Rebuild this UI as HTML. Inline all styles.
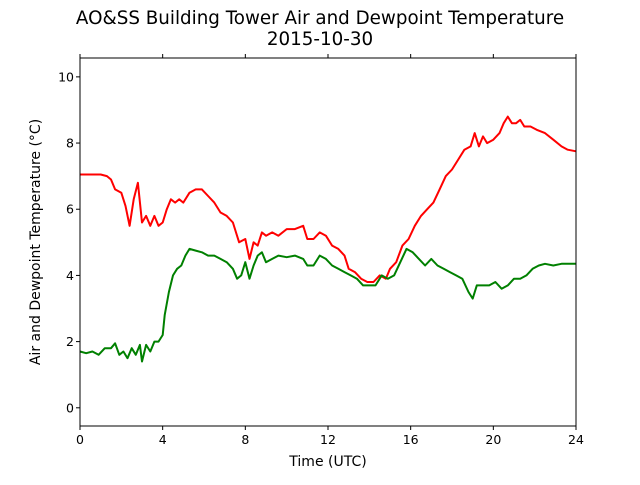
<!DOCTYPE html>
<html><head><meta charset="utf-8"><style>
body{margin:0;background:#fff;}
svg text{font-family:"DejaVu Sans","Liberation Sans",sans-serif;fill:#000;}
</style></head><body>
<svg id="chart" width="640" height="480" xmlns="http://www.w3.org/2000/svg">
<rect width="640" height="480" fill="#fff"/>
<text x="320" y="24" text-anchor="middle" font-size="18.3">AO&amp;SS Building Tower Air and Dewpoint Temperature</text>
<text x="320" y="45" text-anchor="middle" font-size="18.3">2015-10-30</text>
<g id="plot"></g>
<text x="328" y="466" text-anchor="middle" font-size="14">Time (UTC)</text>
<text transform="translate(40,242) rotate(-90)" text-anchor="middle" font-size="14">Air and Dewpoint Temperature (°C)</text>
</svg>
<script>
const airHours=[0,0.5,1,1.3,1.5,1.7,2,2.2,2.4,2.6,2.8,3.0,3.2,3.4,3.6,3.8,4.0,4.2,4.4,4.6,4.8,5.0,5.3,5.6,5.9,6.2,6.5,6.8,7.1,7.4,7.7,8.0,8.2,8.4,8.6,8.8,9.0,9.3,9.6,10,10.4,10.8,11.0,11.3,11.6,11.9,12.2,12.5,12.8,13.0,13.3,13.6,13.9,14.2,14.5,14.8,15.0,15.3,15.6,15.9,16.2,16.5,16.8,17.1,17.4,17.7,18.0,18.3,18.6,18.9,19.1,19.3,19.5,19.7,20.0,20.3,20.5,20.7,20.9,21.1,21.3,21.5,21.8,22.1,22.5,22.9,23.3,23.6,24];
const airTemp=[7.05,7.05,7.05,7.0,6.9,6.6,6.5,6.1,5.5,6.3,6.8,5.6,5.8,5.5,5.8,5.5,5.6,6.0,6.3,6.2,6.3,6.2,6.5,6.6,6.6,6.4,6.2,5.9,5.8,5.6,5.0,5.1,4.5,5.0,4.9,5.3,5.2,5.3,5.2,5.4,5.4,5.5,5.1,5.1,5.3,5.2,4.9,4.8,4.6,4.2,4.1,3.9,3.8,3.8,4.0,3.9,4.2,4.4,4.9,5.1,5.5,5.8,6.0,6.2,6.6,7.0,7.2,7.5,7.8,7.9,8.3,7.9,8.2,8.0,8.1,8.3,8.6,8.8,8.6,8.6,8.7,8.5,8.5,8.4,8.3,8.1,7.9,7.8,7.75];
const dewHours=[0,0.3,0.6,0.9,1.2,1.5,1.7,1.9,2.1,2.3,2.5,2.7,2.9,3.0,3.2,3.4,3.6,3.8,4.0,4.1,4.3,4.5,4.7,4.9,5.1,5.3,5.6,5.9,6.2,6.5,6.8,7.1,7.4,7.6,7.8,8.0,8.2,8.4,8.6,8.8,9.0,9.3,9.6,10,10.4,10.8,11.0,11.3,11.6,11.9,12.2,12.5,12.8,13.1,13.4,13.7,14.0,14.3,14.6,14.9,15.2,15.5,15.8,16.1,16.4,16.7,17.0,17.3,17.6,17.9,18.2,18.5,18.8,19.0,19.2,19.5,19.8,20.1,20.4,20.7,21.0,21.3,21.6,21.9,22.2,22.5,22.9,23.3,23.7,24];
const dewTemp=[1.7,1.65,1.7,1.6,1.8,1.8,1.95,1.6,1.7,1.5,1.8,1.6,1.9,1.4,1.9,1.7,2.0,2.0,2.2,2.8,3.5,4.0,4.2,4.3,4.6,4.8,4.75,4.7,4.6,4.6,4.5,4.4,4.2,3.9,4.0,4.4,3.9,4.3,4.6,4.7,4.4,4.5,4.6,4.55,4.6,4.5,4.3,4.3,4.6,4.5,4.3,4.2,4.1,4.0,3.9,3.7,3.7,3.7,4.0,3.9,4.0,4.4,4.8,4.7,4.5,4.3,4.5,4.3,4.2,4.1,4.0,3.9,3.5,3.3,3.7,3.7,3.7,3.8,3.6,3.7,3.9,3.9,4.0,4.2,4.3,4.35,4.3,4.35,4.35,4.35];
const xTicks=[0,4,8,12,16,20,24];
const yTicks=[0,2,4,6,8,10];
const L=80,R=576,T=58,B=426,XMIN=0,XMAX=24,YMIN=-0.55,YMAX=10.57;
const xs=v=>L+(v-XMIN)/(XMAX-XMIN)*(R-L);
const ys=v=>B-(v-YMIN)/(YMAX-YMIN)*(B-T);
const NS="http://www.w3.org/2000/svg";
const g=document.getElementById('plot');
function mk(tag,attrs){const e=document.createElementNS(NS,tag);for(const k in attrs)e.setAttribute(k,attrs[k]);g.appendChild(e);return e;}
function line(hs,vs,color,name){
  const d=hs.map((h,i)=>(i?'L':'M')+xs(h).toFixed(1)+','+ys(vs[i]).toFixed(1)).join('');
  const p=mk('path',{d:d,fill:'none',stroke:color,'stroke-width':2,'stroke-linejoin':'round'});
  
  
}
line(airHours,airTemp,'#ff0000','air-temperature-line');
line(dewHours,dewTemp,'#008000','dewpoint-temperature-line');
const frame=mk('rect',{x:L,y:T,width:R-L,height:B-T,fill:'none',stroke:'#000','stroke-width':1});


xTicks.forEach(t=>{
  const x=xs(t);
  mk('line',{x1:x,x2:x,y1:B,y2:B+4,stroke:'#000'});
  mk('line',{x1:x,x2:x,y1:T,y2:T-4,stroke:'#000'});
  const tx=mk('text',{x:x,y:B+18,'text-anchor':'middle','font-size':12.5});
  tx.textContent=t;
  
  
});
yTicks.forEach(t=>{
  const y=ys(t);
  mk('line',{x1:L,x2:L-4,y1:y,y2:y,stroke:'#000'});
  const tx=mk('text',{x:L-6,y:y+4.5,'text-anchor':'end','font-size':12.5});
  tx.textContent=t;
  
  
});
</script>
</body></html>
